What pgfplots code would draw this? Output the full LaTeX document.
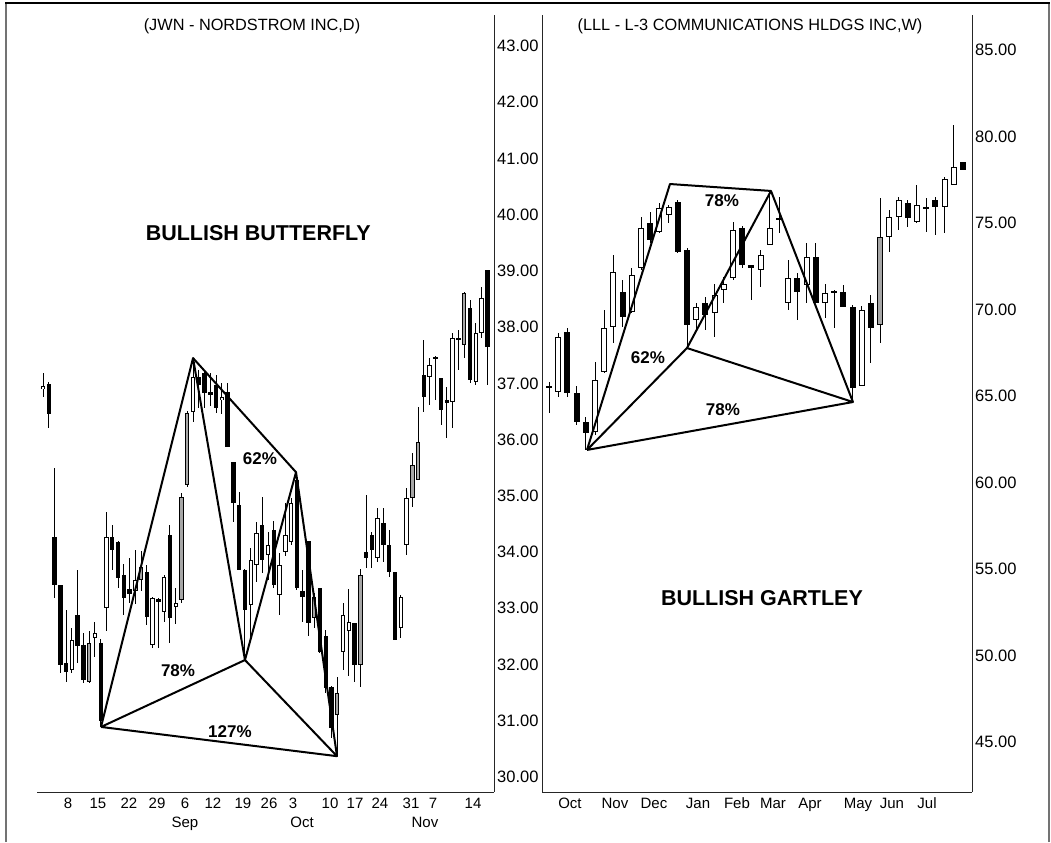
\documentclass[border=0pt]{standalone}
\usepackage{fontspec}
\setmainfont{Liberation Sans}
\usepackage{pgfplots}
\pgfplotsset{compat=1.18}
\usepackage{pgfplotstable}

% t: 0 = black (down), 1 = white (up), 2 = grey (up)
\pgfplotstableread{
x o h l c t
0 36.90 37.18 36.76 36.95 1
1 36.99 37.02 36.20 36.46 0
2 34.27 35.50 33.18 33.41 0
3 33.41 33.42 31.85 32.00 0
4 32.03 32.97 31.69 31.87 0
5 31.90 32.65 31.85 32.43 1
6 32.88 33.68 32.03 32.33 0
7 32.35 32.56 31.67 31.72 0
8 31.69 32.60 31.67 32.38 2
9 32.47 32.76 32.13 32.56 1
10 32.38 32.45 30.89 31.00 0
11 33.00 34.71 32.60 34.27 1
12 34.27 34.48 33.68 34.04 0
13 34.18 34.20 33.36 33.54 0
14 33.60 33.78 32.88 33.18 0
15 33.35 33.90 33.10 33.25 0
16 33.30 34.03 33.08 33.50 1
17 33.50 34.02 33.30 33.73 2
18 33.65 33.77 32.70 32.85 0
19 32.35 33.20 32.30 33.18 1
20 33.16 33.18 32.30 33.12 0
21 32.93 33.60 32.75 33.55 1
22 34.30 34.48 32.38 32.82 0
23 33.02 33.36 32.72 33.10 1
24 33.15 35.05 33.10 34.98 2
25 35.20 36.50 35.15 36.47 2
26 36.49 37.45 36.31 37.11 1
27 37.11 37.24 36.56 36.97 0
28 37.18 37.20 36.56 36.83 0
29 36.85 37.18 36.60 36.80 0
30 36.97 37.15 36.47 36.56 0
31 36.70 37.00 36.45 36.75 1
32 36.85 37.00 35.87 35.87 0
33 35.60 35.60 34.53 34.87 0
34 34.84 35.07 33.68 33.68 0
35 33.68 33.70 32.10 32.97 0
36 33.06 34.07 32.44 33.86 1
37 33.77 34.53 33.47 34.34 1
38 34.48 34.98 33.63 33.86 0
39 33.95 34.36 33.50 34.12 1
40 34.39 34.55 33.36 33.41 0
41 33.24 33.98 32.88 33.77 1
42 34.00 34.87 33.93 34.30 1
43 34.18 34.96 34.12 34.87 1
44 35.28 35.42 33.33 33.36 0
45 33.30 33.68 32.76 33.20 0
46 34.20 34.20 32.50 32.74 0
47 32.83 33.27 32.65 33.20 2
48 33.36 33.36 32.20 32.22 0
49 32.50 32.62 31.49 31.58 0
50 31.60 31.62 30.70 30.87 0
51 31.10 31.78 30.39 31.49 2
52 32.22 33.10 31.90 32.88 1
53 32.60 33.35 31.80 32.75 1
54 32.74 32.74 31.69 31.99 0
55 31.99 33.70 31.60 33.59 2
56 34.00 35.02 33.72 33.90 0
57 34.30 34.35 33.72 34.04 0
58 33.89 34.78 33.82 34.60 1
59 34.52 34.78 33.82 34.13 0
60 34.13 34.40 33.56 33.65 0
61 33.65 33.65 32.44 32.44 0
62 32.65 33.24 32.47 33.20 1
63 34.13 35.14 33.95 34.96 1
64 34.96 35.76 34.80 35.55 2
65 35.28 36.58 35.28 35.96 2
66 37.15 37.77 36.49 36.76 0
67 37.11 37.45 36.61 37.33 1
68 37.47 37.49 36.70 37.43 0
69 37.10 37.10 36.26 36.53 0
70 36.70 36.94 36.03 36.65 0
71 36.67 37.90 36.20 37.80 1
72 37.80 37.95 37.24 37.77 0
73 37.68 38.62 37.45 38.60 2
74 38.34 38.48 37.00 37.06 0
75 37.02 38.07 36.97 37.90 1
76 37.90 38.71 37.80 38.52 1
77 39.02 39.02 36.97 37.65 0
}\jwn

\pgfplotstableread{
x o h l c t
0 65.55 65.80 64.00 65.50 0
1 65.23 68.64 64.94 68.41 1
2 68.70 68.93 64.94 65.17 0
3 65.17 65.60 63.30 63.50 0
4 63.50 63.80 61.88 62.86 0
5 62.92 66.96 62.75 65.92 1
6 66.39 69.97 66.33 68.93 1
7 68.99 73.15 68.06 72.17 1
8 71.00 71.70 68.99 69.57 0
9 69.86 72.40 69.80 71.99 1
10 72.40 75.35 72.28 74.70 1
11 75.00 75.64 73.84 74.02 0
12 74.48 76.16 74.42 75.87 1
13 75.46 76.04 75.00 75.92 1
14 76.20 76.33 73.27 73.30 0
15 73.44 73.55 67.77 69.10 0
16 69.40 70.38 68.70 70.14 1
17 70.38 70.72 68.82 69.70 0
18 69.80 71.50 68.40 70.84 1
19 71.10 71.85 70.40 71.50 1
20 71.82 75.06 71.70 74.60 1
21 74.70 74.85 72.40 72.57 0
22 72.55 72.55 70.55 72.40 0
23 72.28 73.44 71.30 73.15 1
24 73.73 76.85 73.70 74.70 1
25 75.30 76.50 74.40 75.17 0
26 70.38 72.86 69.97 71.82 1
27 71.82 72.10 69.40 71.00 0
28 71.42 73.84 70.38 73.03 1
29 73.03 73.84 70.38 70.38 0
30 70.38 71.50 69.50 70.95 1
31 71.00 71.10 68.93 71.05 1
32 71.00 71.42 70.14 70.14 0
33 70.14 70.26 64.65 65.46 0
34 65.60 70.20 65.60 69.97 1
35 70.38 70.84 66.90 68.93 0
36 69.10 76.45 68.06 74.20 2
37 74.20 75.75 73.30 75.35 1
38 75.35 76.50 74.60 76.33 1
39 76.16 76.33 74.77 75.29 0
40 75.06 77.20 75.00 76.04 1
41 75.90 76.45 74.48 75.80 0
42 76.33 76.50 74.30 75.92 0
43 75.92 77.66 74.42 77.54 1
44 77.20 80.66 77.20 78.24 1
45 78.53 78.53 78.06 78.06 0
}\lll

\pgfplotsset{
  candleaxis/.style={
    scale only axis, anchor=south west,
    axis x line*=bottom, axis y line*=right,
    axis line style={line width=1pt, black!85},
    major tick length=0pt,
    /pgf/number format/assume math mode=true,
    y tick label style={/pgf/number format/.cd, fixed, fixed zerofill, precision=2, /tikz/.cd,
      anchor=west, inner sep=0pt, xshift=3pt, font=\fontsize{16.5}{16.5}\selectfont},
    x tick label style={anchor=north, inner sep=0pt, yshift=-5pt, text height=11pt, text depth=3pt,
      font=\fontsize{15}{15}\selectfont},
    extra x tick style={tick label style={yshift=-19pt}},
  },
  wick/.style={draw=none, mark=none, forget plot,
    error bars/.cd, y dir=both, y explicit, error mark=none,
    error bar style={draw=black, solid, line width=1pt}},
  body/.style n args={2}{draw=none, mark=none, forget plot,
    error bars/.cd, y dir=both, y explicit, error mark=none,
    error bar style={draw=#1, solid, line width=#2}},
  pattern/.style={black, line width=2pt, mark=none, line join=round, forget plot},
}
\tikzset{
  pct/.style={font=\bfseries\fontsize{17}{17}\selectfont},
  big/.style={font=\bfseries\fontsize{21.5}{21.5}\selectfont},
}

\begin{document}
\begin{tikzpicture}
\path (0pt,0pt) rectangle (1051pt,842pt);
\draw[line width=1.6pt, black!55] (6pt,0pt) -- (6pt,839pt);
\draw[line width=1.6pt, black!55] (1049pt,0pt) -- (1049pt,839pt);
\draw[line width=1.2pt, black] (5pt,839pt) -- (1050pt,839pt);

\node[font=\fontsize{16.3}{16.3}\selectfont] at (252pt,816pt) {(JWN - NORDSTROM INC,D)};
\node[font=\fontsize{16.3}{16.3}\selectfont] at (750pt,816pt) {(LLL - L-3 COMMUNICATIONS HLDGS INC,W)};

% ---------------- left panel: daily JWN ----------------
\begin{axis}[candleaxis,
  at={(37pt,50pt)}, width=457pt, height=777pt,
  xmin=-1.04, xmax=78.16, ymin=29.733, ymax=43.551,
  ytick={30,31,...,43},
  xtick={4.33,9.53,14.9,19.76,24.6,29.46,34.66,39.17,43.33,49.74,54.07,58.4,63.78,67.59,74.52},
  xticklabels={8,15,22,29,6,12,19,26,3,10,17,24,31,7,14},
  extra x ticks={24.6,44.9,66.2},
  extra x tick labels={Sep,Oct,Nov},
]
\addplot[wick] table[x=x, y expr={(\thisrow{h}+\thisrow{l})/2}, y error expr={(\thisrow{h}-\thisrow{l})/2}] {\jwn};
\addplot[body={black}{4.4pt}] table[x=x, y expr={(\thisrow{o}+\thisrow{c})/2}, y error expr={max(abs(\thisrow{c}-\thisrow{o})/2,0.012)}] {\jwn};
\addplot[body={white}{2.4pt}] table[x=x, y expr={(\thisrow{o}+\thisrow{c})/2}, y error expr={(\thisrow{t}==1)*max(abs(\thisrow{c}-\thisrow{o})/2-0.018,0)}] {\jwn};
\addplot[body={black!35}{2.4pt}] table[x=x, y expr={(\thisrow{o}+\thisrow{c})/2}, y error expr={(\thisrow{t}==2)*max(abs(\thisrow{c}-\thisrow{o})/2-0.018,0)}] {\jwn};
% butterfly X-A-B-C-D
\addplot[pattern] coordinates {(10.05,30.89) (26.0,37.45) (35.0,32.08) (43.85,35.42) (50.95,30.37)};
\addplot[pattern] coordinates {(10.05,30.89) (35.0,32.08) (50.95,30.37) (10.05,30.89)};
\addplot[pattern] coordinates {(26.0,37.45) (43.85,35.42)};
\node[pct] at (axis cs:23.4,31.89) {78\%};
\node[pct] at (axis cs:32.4,30.80) {127\%};
\node[pct] at (axis cs:37.6,35.66) {62\%};
\node[big] at (axis cs:37.3,39.67) {BULLISH BUTTERFLY};
\end{axis}

% ---------------- right panel: weekly LLL ----------------
\begin{axis}[candleaxis,
  at={(542pt,50pt)}, width=430pt, height=777pt,
  xmin=-0.76, xmax=45.98, ymin=42.11, ymax=87.02,
  ytick={45,50,...,85},
  xtick={2.28,7.17,11.41,16.2,20.43,24.35,28.37,33.59,37.28,41.09},
  xticklabels={Oct,Nov,Dec,Jan,Feb,Mar,Apr,May,Jun,Jul},
]
\draw[line width=1pt, black!85] (rel axis cs:0,0) -- (rel axis cs:0,1);
\addplot[wick] table[x=x, y expr={(\thisrow{h}+\thisrow{l})/2}, y error expr={(\thisrow{h}-\thisrow{l})/2}] {\lll};
\addplot[body={black}{6pt}] table[x=x, y expr={(\thisrow{o}+\thisrow{c})/2}, y error expr={max(abs(\thisrow{c}-\thisrow{o})/2,0.04)}] {\lll};
\addplot[body={white}{4pt}] table[x=x, y expr={(\thisrow{o}+\thisrow{c})/2}, y error expr={(\thisrow{t}==1)*max(abs(\thisrow{c}-\thisrow{o})/2-0.058,0)}] {\lll};
\addplot[body={black!35}{4pt}] table[x=x, y expr={(\thisrow{o}+\thisrow{c})/2}, y error expr={(\thisrow{t}==2)*max(abs(\thisrow{c}-\thisrow{o})/2-0.058,0)}] {\lll};
% Gartley
\addplot[pattern] coordinates {(4.13,61.88) (13.15,77.25) (24.13,76.85) (33.04,64.65)};
\addplot[pattern] coordinates {(15.0,67.77) (24.13,76.85)};
\addplot[pattern] coordinates {(4.13,61.88) (15.0,67.77) (33.04,64.65) (4.13,61.88)};
\node[pct] at (axis cs:18.8,76.27) {78\%};
\node[pct] at (axis cs:10.76,67.2) {62\%};
\node[pct] at (axis cs:18.9,64.19) {78\%};
\node[big] at (axis cs:23.15,53.32) {BULLISH GARTLEY};
\end{axis}
\end{tikzpicture}
\end{document}
